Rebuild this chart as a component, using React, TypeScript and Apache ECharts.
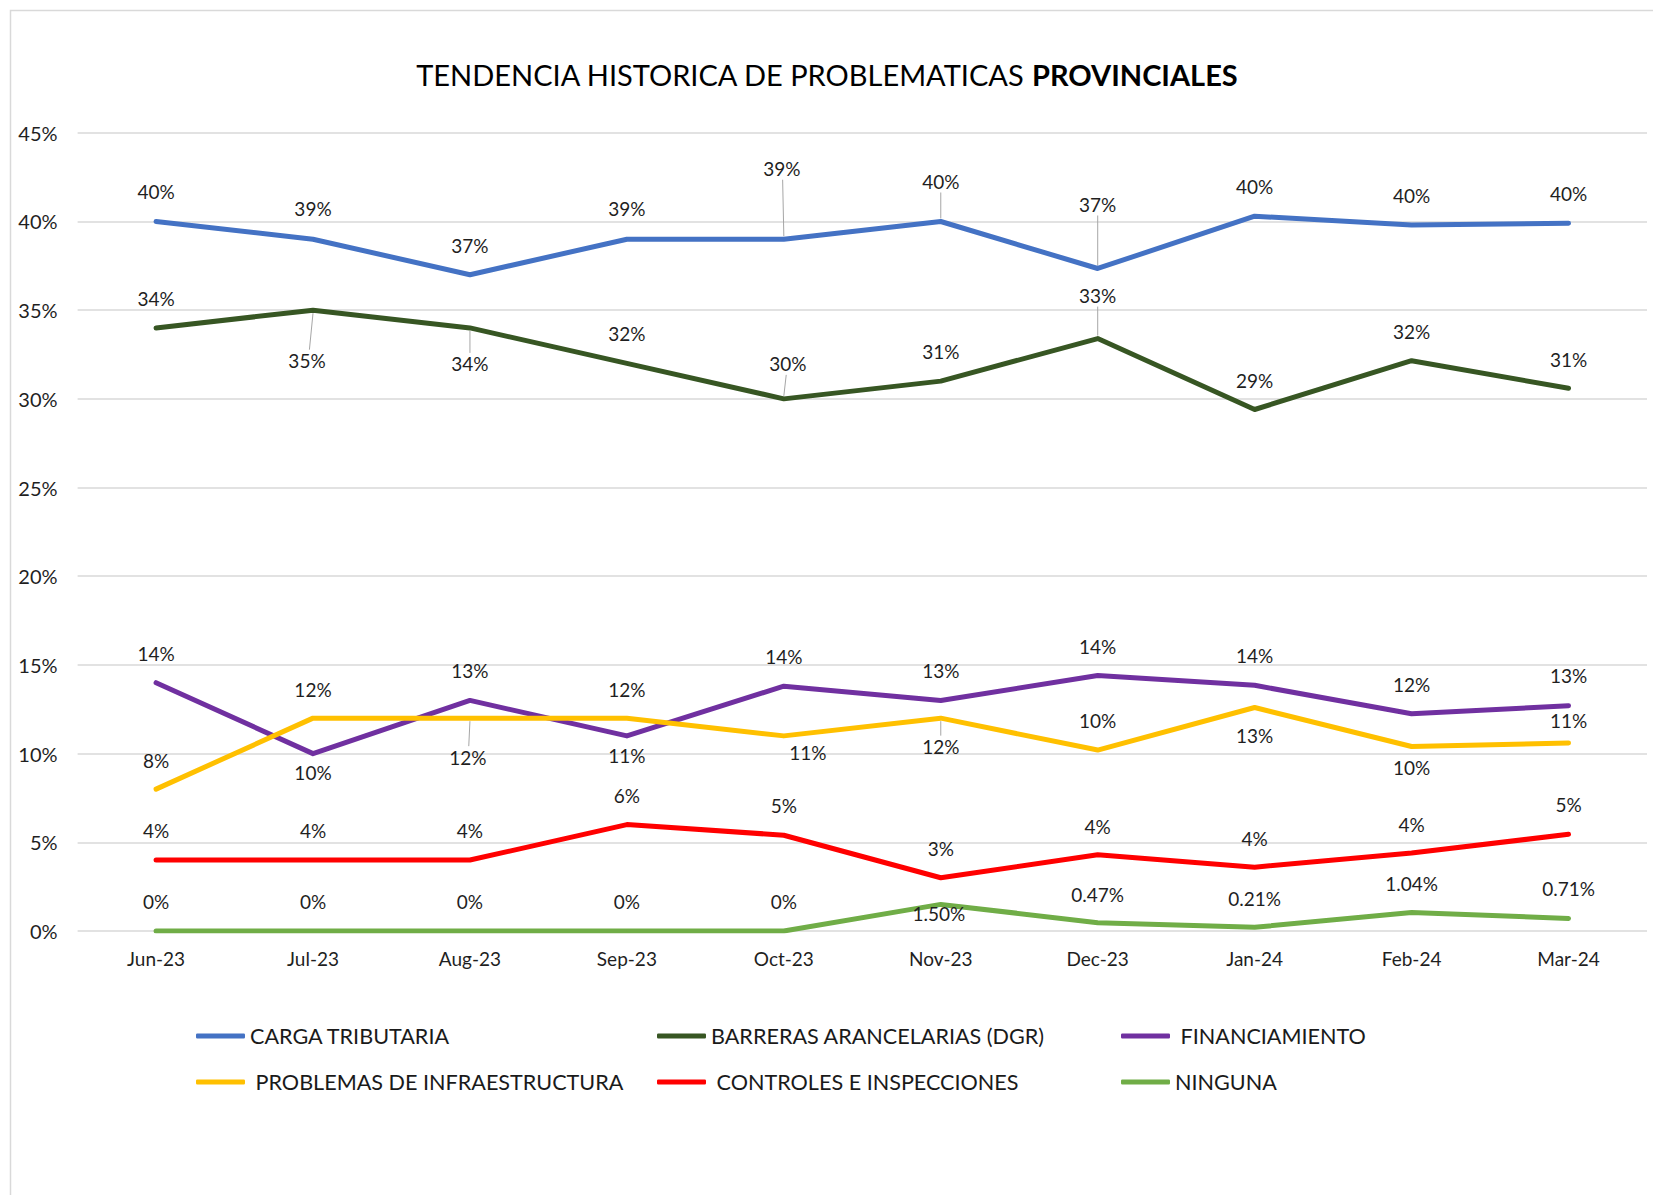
import React, { useEffect, useRef } from "react";
import * as echarts from "echarts";

// ---- Data ----
const categories = ["Jun-23", "Jul-23", "Aug-23", "Sep-23", "Oct-23", "Nov-23", "Dec-23", "Jan-24", "Feb-24", "Mar-24"];
const yTicks = [0, 5, 10, 15, 20, 25, 30, 35, 40, 45];

const cargaTributaria = [40, 39, 37, 39, 39, 40, 37.35, 40.3, 39.8, 39.9];
const barrerasArancelarias = [34, 35, 34, 32, 30, 31, 33.4, 29.4, 32.15, 30.6];
const financiamiento = [14, 10, 13, 11, 13.8, 13, 14.4, 13.85, 12.25, 12.7];
const problemasInfraestructura = [8, 12, 12, 12, 11, 12, 10.2, 12.6, 10.4, 10.6];
const controlesInspecciones = [4, 4, 4, 6, 5.4, 3, 4.3, 3.6, 4.4, 5.45];
const ninguna = [0, 0, 0, 0, 0, 1.5, 0.47, 0.21, 1.04, 0.71];

const seriesNames = [
  "CARGA TRIBUTARIA",
  "BARRERAS ARANCELARIAS (DGR)",
  "FINANCIAMIENTO",
  "PROBLEMAS DE INFRAESTRUCTURA",
  "CONTROLES E INSPECCIONES",
  "NINGUNA",
];
const seriesValues = [
  cargaTributaria,
  barrerasArancelarias,
  financiamiento,
  problemasInfraestructura,
  controlesInspecciones,
  ninguna,
];
const seriesColors = ["#4472C4", "#375623", "#7030A0", "#FFC000", "#FF0000", "#70AD47"];
// legend names that carry a leading space in the original
const spacedLegendNames = ["FINANCIAMIENTO", "PROBLEMAS DE INFRAESTRUCTURA", "CONTROLES E INSPECCIONES"];

// ---- Label placement (pixels, relative to the point) ----
const labelDy = [
  [-29.5, -30.5, -29.5, -30.5, -70.5, -40, -64, -29.5, -29.5, -29.5],
  [-29.5, 50.5, 36, -29.5, -35, -29.5, -43, -29.5, -29.5, -28.5],
  [-29.5, 19, -29.5, 20, -29.5, -29.5, -29.5, -29.5, -29.5, -30.5],
  [-28.5, -28.5, 39, -28.5, 17, 28.5, -29.5, 27.5, 21, -22],
  [-29.5, -29.5, -29.5, -29.5, -29.5, -29.5, -28.5, -28.5, -28.5, -29.5],
  [-29.5, -29.5, -29.5, -29.5, -29.5, 9.5, -28.5, -28.5, -29.5, -29.5],
];
const labelDx = [
  [0, 0, 0, 0, -2, 0, 0, 0, 0, 0],
  [0, -6, 0, 0, 4, 0, 0, 0, 0, 0],
  [0, 0, 0, 0, 0, 0, 0, 0, 0, 0],
  [0, 0, -2, 0, 24, 0, 0, 0, 0, 0],
  [0, 0, 0, 0, 0, 0, 0, 0, 0, 0],
  [0, 0, 0, 0, 0, -2, 0, 0, 0, 0],
];
// points whose label has a leader line: [series, category]
const leaderPoints = [
  [0, 4], [0, 5], [0, 6],
  [1, 1], [1, 2], [1, 4], [1, 6],
  [3, 2], [3, 5],
];

const FONT = "Lato";

function fmt(seriesIdx: number, v: number) {
  if (seriesIdx === 5) return v === 0 ? "0%" : v.toFixed(2) + "%";
  return Math.round(v) + "%";
}

export default function App() {
  const ref = useRef<HTMLDivElement>(null);

  useEffect(() => {
    if (!ref.current) return;
    const chart = echarts.init(ref.current, null, { renderer: "svg" });

    const lineSeries = seriesNames.map((name, si) => ({
      name,
      type: "line",
      data: seriesValues[si].map((v, ci) => ({
        value: v,
        label: { offset: [labelDx[si][ci], labelDy[si][ci]] },
      })),
      color: seriesColors[si],
      symbol: "circle",
      symbolSize: 1,
      showSymbol: true,
      lineStyle: { width: 5, color: seriesColors[si], cap: "round", join: "round" },
      itemStyle: { color: seriesColors[si] },
      label: {
        show: true,
        position: "inside",
        fontFamily: FONT,
        fontSize: 19,
        color: "#1f1f1f",
        formatter: (p: any) => fmt(si, p.value),
      },
      emphasis: { disabled: true },
      z: 3,
    }));

    const leaderData = leaderPoints.map(([si, ci]) => [ci, seriesValues[si][ci], labelDx[si][ci], labelDy[si][ci]]);

    const leaderSeries = {
      name: "leaders",
      type: "custom",
      silent: true,
      z: 2,
      data: leaderData,
      renderItem: (_params: any, api: any) => {
        const p = api.coord([api.value(0), api.value(1)]);
        const dx = api.value(2);
        const dy = api.value(3);
        const s = dy < 0 ? -1 : 1;
        return {
          type: "line",
          shape: { x1: p[0], y1: p[1] + s * 3, x2: p[0] + dx * 0.6, y2: p[1] + dy - s * 11 },
          style: { stroke: "#a6a6a6", lineWidth: 1 },
        };
      },
    };

    const legendCommon = {
      orient: "vertical",
      top: 1024,
      padding: 0,
      itemWidth: 49,
      itemHeight: 5,
      itemGap: 22,
      icon: "roundRect",
      selectedMode: false,
      formatter: (name: string) => (spacedLegendNames.includes(name) ? " " + name : name),
      textStyle: { fontFamily: FONT, fontSize: 21.6, color: "#1a1a1a", lineHeight: 24 },
    };

    chart.setOption({
      animation: false,
      backgroundColor: "#ffffff",
      textStyle: { fontFamily: FONT },
      title: {
        text: "{a|TENDENCIA HISTORICA DE PROBLEMATICAS }{b|PROVINCIALES}",
        left: "center",
        top: 54.5,
        textStyle: {
          rich: {
            a: { fontFamily: FONT, fontSize: 29, color: "#000000", fontWeight: "normal" },
            b: { fontFamily: FONT, fontSize: 29, color: "#000000", fontWeight: "bold" },
          },
        },
      },
      graphic: [
        {
          type: "rect",
          silent: true,
          z: -10,
          shape: { x: 10.5, y: 10.5, width: 1700, height: 1250 },
          style: { fill: "none", stroke: "#d9d9d9", lineWidth: 1.5 },
        },
      ],
      legend: [
        { ...legendCommon, left: 196, data: [seriesNames[0], seriesNames[3]] },
        { ...legendCommon, left: 657, data: [seriesNames[1], seriesNames[4]] },
        { ...legendCommon, left: 1121, data: [seriesNames[2], seriesNames[5]] },
      ],
      grid: { left: 77.6, right: 6, top: 132.8, bottom: 264, containLabel: false },
      xAxis: {
        type: "category",
        data: categories,
        boundaryGap: true,
        axisLine: { show: false },
        axisTick: { show: false },
        axisLabel: { fontFamily: FONT, fontSize: 19, color: "#1f1f1f", margin: 18 },
      },
      yAxis: {
        type: "value",
        min: yTicks[0],
        max: yTicks[yTicks.length - 1],
        interval: yTicks[1] - yTicks[0],
        axisLine: { show: false },
        axisTick: { show: false },
        splitLine: { lineStyle: { color: "#d9d9d9", width: 1.5 } },
        axisLabel: {
          fontFamily: FONT,
          fontSize: 20,
          color: "#1f1f1f",
          margin: 20,
          formatter: (v: number) => v + "%",
        },
      },
      series: [...lineSeries, leaderSeries],
    });

    return () => chart.dispose();
  }, []);

  return (
    <div
      ref={ref}
      style={{ position: "fixed", left: 0, top: 0, width: 1653, height: 1195, background: "#fff" }}
    />
  );
}
